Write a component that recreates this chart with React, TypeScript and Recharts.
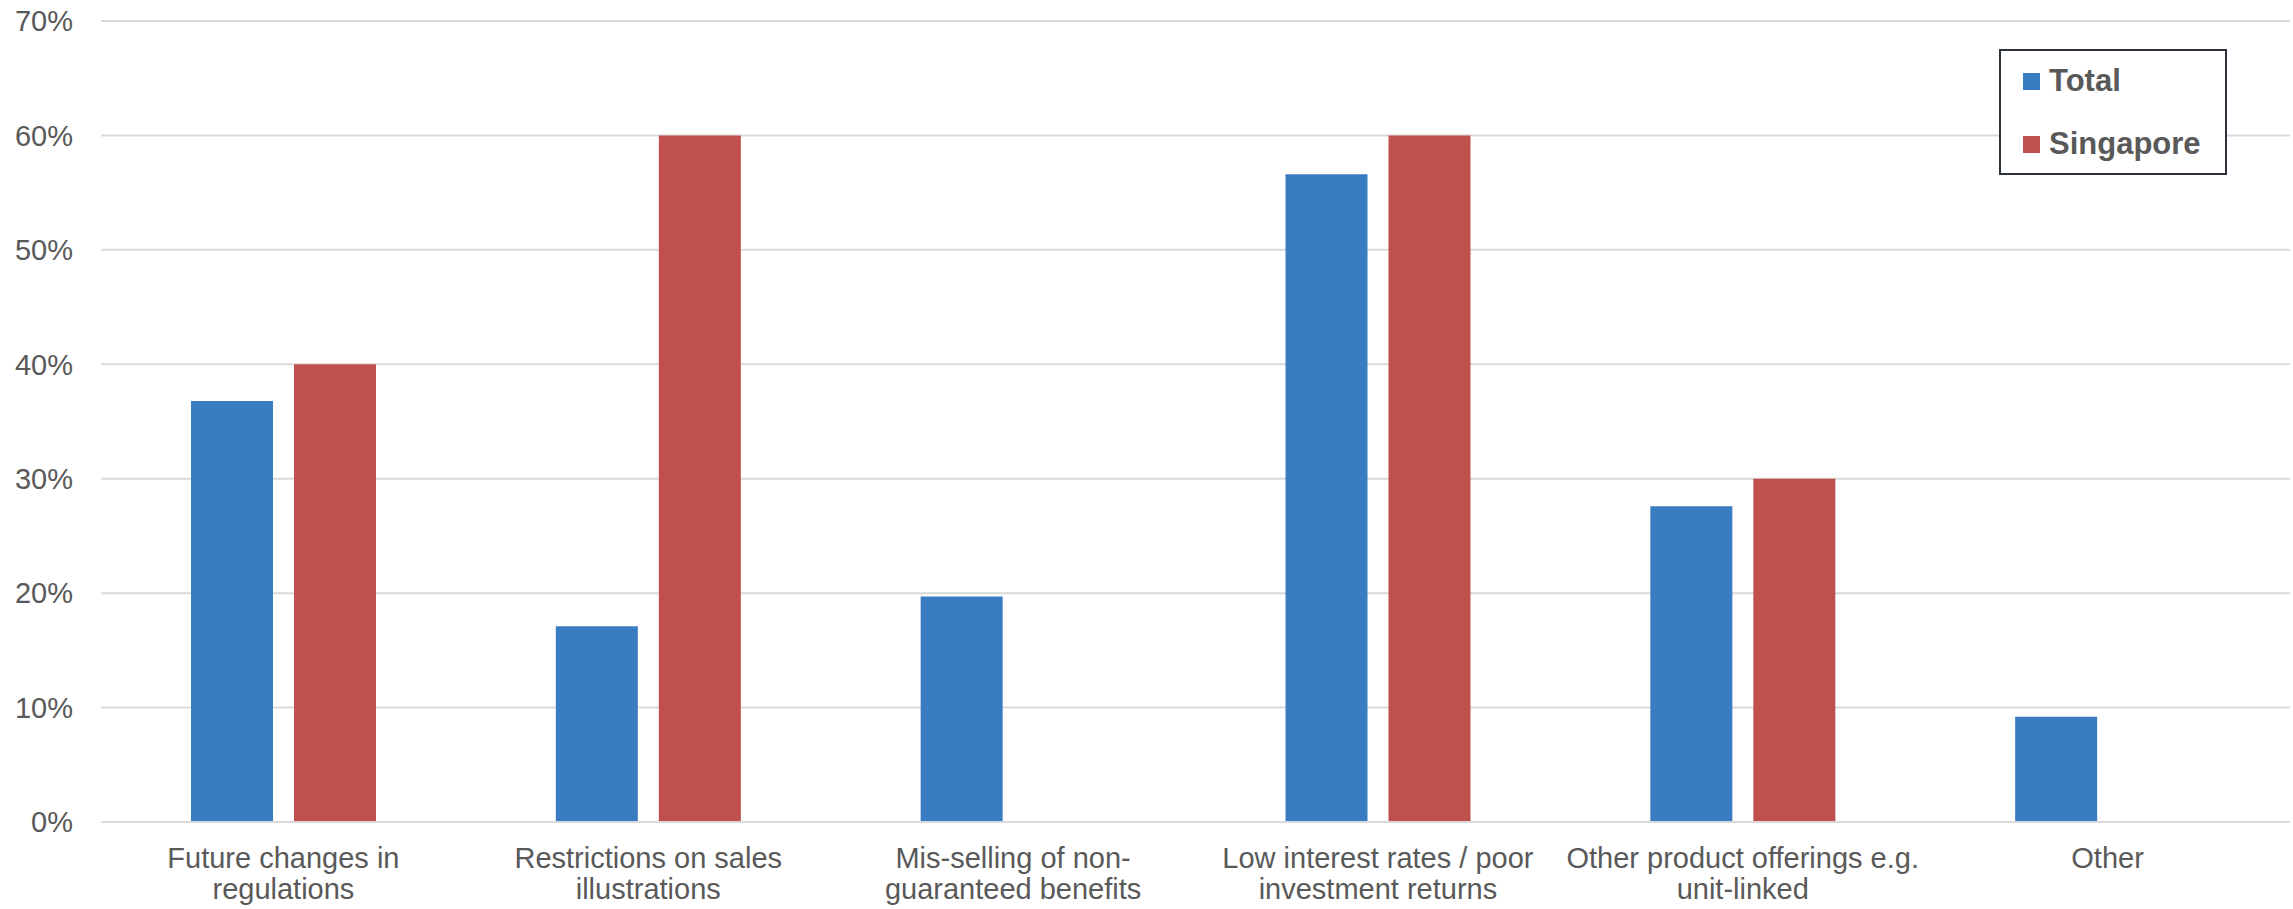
import React from "react";
import { BarChart, Bar, XAxis, YAxis, CartesianGrid } from "recharts";

// Survey shares (%) by concern
const categories = [
  "Future changes in\nregulations",
  "Restrictions on sales\nillustrations",
  "Mis-selling of non-\nguaranteed benefits",
  "Low interest rates / poor\ninvestment returns",
  "Other product offerings e.g.\nunit-linked",
  "Other",
];
const totalValues = [36.8, 17.1, 19.7, 56.6, 27.6, 9.2];
const singaporeValues = [40, 60, 0, 60, 30, 0];
const yTicks = [0, 10, 20, 30, 40, 50, 60, 70];

const series = [
  { key: "total", label: "Total", color: "#3a7cc2" },
  { key: "singapore", label: "Singapore", color: "#c0504d" },
];

const data = categories.map((name, i) => ({
  name,
  total: totalValues[i],
  singapore: singaporeValues[i],
}));

const FONT = "'Liberation Sans', Arial, sans-serif";
const TEXT = "#595959";

const CategoryTick = (props: any) => {
  const { x, y, payload } = props;
  const lines = String(payload.value).split("\n");
  return (
    <text
      x={x}
      y={y}
      textAnchor="middle"
      fill={TEXT}
      fontSize={29}
      fontFamily={FONT}
    >
      {lines.map((line, i) => (
        <tspan key={i} x={x} dy={i === 0 ? 45.5 : 31}>
          {line}
        </tspan>
      ))}
    </text>
  );
};

export default function App() {
  return (
    <div
      style={{
        position: "absolute",
        left: 0,
        top: 0,
        width: 2293,
        height: 909,
        background: "#fff",
        fontFamily: FONT,
      }}
    >
      <BarChart
        width={2293}
        height={909}
        data={data}
        margin={{ top: 21, right: 3, bottom: 0, left: 0 }}
        barGap={21}
        barCategoryGap={90}
      >
        <CartesianGrid vertical={false} stroke="#d9d9d9" strokeWidth={2} />
        <XAxis
          dataKey="name"
          height={87}
          axisLine={{ stroke: "#d9d9d9", strokeWidth: 2 }}
          tickLine={false}
          tickSize={0}
          tickMargin={0}
          interval={0}
          tick={<CategoryTick />}
        />
        <YAxis
          width={101}
          domain={[0, 70]}
          ticks={yTicks}
          axisLine={false}
          tickLine={false}
          tickSize={0}
          tickMargin={28}
          tickFormatter={(v) => `${v}%`}
          tick={{ fill: TEXT, fontSize: 29, fontFamily: FONT }}
        />
        {series.map((s) => (
          <Bar
            key={s.key}
            dataKey={s.key}
            fill={s.color}
            isAnimationActive={false}
          />
        ))}
      </BarChart>

      {/* legend box, top right over the plot */}
      <div
        style={{
          position: "absolute",
          left: 1999,
          top: 49,
          width: 228,
          height: 126,
          boxSizing: "border-box",
          border: "2px solid #2d333b",
          background: "#fff",
        }}
      />
      {series.map((s, i) => (
        <React.Fragment key={s.key}>
          <div
            style={{
              position: "absolute",
              left: 2023,
              top: 73 + i * 63,
              width: 17,
              height: 17,
              background: s.color,
            }}
          />
          <div
            style={{
              position: "absolute",
              left: 2049,
              top: 65 + i * 63,
              fontSize: 31,
              lineHeight: "31px",
              fontWeight: "bold",
              color: TEXT,
              whiteSpace: "nowrap",
            }}
          >
            {s.label}
          </div>
        </React.Fragment>
      ))}
    </div>
  );
}
